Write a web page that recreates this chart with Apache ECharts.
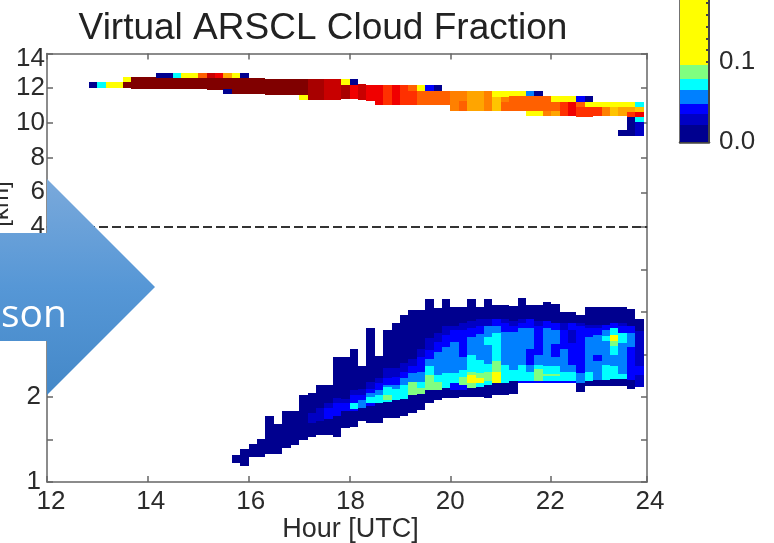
<!DOCTYPE html>
<html>
<head>
<meta charset="utf-8">
<style>html,body{margin:0;padding:0;background:#fff}#c{width:774px;height:543px}#c canvas{filter:blur(0.4px)}</style>
<script src="https://cdn.jsdelivr.net/npm/echarts@6/dist/echarts.min.js"></script>
</head>
<body>
<div id="c"></div>
<script>
// Column layout: [base km, fraction %, top km, fraction %, top km, ...], 10-minute columns.
const stepHours = 1 / 6;
const highStartHour = 12.8333;
const lowStartHour = 15.6667;
const highColumns = [
[12.00,1,12.34],[12.00,7,12.34],[12.00,12,12.34],[12.00,12,12.34],[12.00,80,12.34,12,12.62],
[11.93,80,12.62],[11.93,80,12.62],[11.93,80,12.62],[11.93,80,12.57,1,12.85],[11.93,80,12.57,1,12.85],
[11.93,80,12.57,7,12.85],[11.93,80,12.57,12,12.85],[11.93,80,12.57,12,12.85],[11.93,80,12.57,40,12.85],[11.89,80,12.57,70,12.85],
[11.89,80,12.57,60,12.85],[11.64,1,11.93,80,12.57,30,12.85],[11.64,80,12.57,12,12.85],[11.64,80,12.57,1,12.85],[11.64,80,12.57],
[11.64,80,12.57],[11.61,80,12.51],[11.61,80,12.51],[11.61,80,12.51],[11.61,80,12.51],
[11.32,12,11.61,80,12.51],[11.32,75,12.51],[11.32,75,12.51],[11.32,70,12.51],[11.32,70,12.51],
[11.36,75,12.18,12,12.51],[11.36,60,12.18,1,12.51],[11.32,70,12.24],[11.28,60,12.18],[11.03,60,12.18],
[11.03,50,12.18],[11.03,60,12.18],[11.03,50,12.18],[11.03,50,11.86,40,12.18],[11.03,40,11.86,12,12.18],
[11.03,40,11.86,4,12.18],[11.03,40,11.86,1,12.18],[11.03,40,11.86],[10.70,35,11.86],[10.70,40,11.28,35,11.86],
[10.70,30,11.86],[10.70,30,11.86],[10.70,35,11.86],[10.70,20,11.51,12,11.86],[10.70,40,11.22,35,11.51,12,11.86],
[10.70,40,11.55,12,11.86],[10.70,40,11.55,12,11.86],[10.40,12,10.70,40,11.55,6,11.86],[10.40,12,10.70,40,11.55,1,11.86],[10.40,35,10.70,40,11.55],
[10.40,30,10.70,40,11.22,12,11.55],[10.40,50,11.22,12,11.55],[10.40,60,11.22,12,11.55],[10.36,50,10.93,40,11.22,4,11.55],[10.36,50,10.93,12,11.22,1,11.55],
[10.40,50,10.93,12,11.22],[10.40,35,10.93,12,11.22],[10.40,20,10.93,12,11.22],[9.26,1,9.59,0,10.40,30,10.93,12,11.22],[9.26,1,10.36,50,10.65,30,10.93,12,11.22],
[9.26,3,10.03,7,10.36,60,10.65,20,10.93,7,11.22]
];
const lowColumns = [
[1.22,1,1.32],[1.19,1,1.39],[1.29,1,1.45],[1.30,1,1.51],[1.33,1,1.78],
[1.33,1,1.68],[1.40,1,1.84],[1.43,1,1.84],[1.50,1,2.02],[1.53,1,1.69,3,1.81,1,2.05],
[1.55,1,1.72,3,1.87,1,2.14],[1.55,1,1.74,4,1.87,3,1.93,1,2.14],[1.53,1,1.78,4,1.93,3,1.99,1,2.47],
[1.63,1,1.83,4,1.93,3,1.98,1,2.47],[1.65,1,1.83,4,1.855,7,1.93,4,2.02,3,2.08,1,2.56],
[1.72,1,1.87,6,1.96,4,2.02,3,2.09,1,2.36],[1.69,1,1.89,4,1.93,7,2.0,6,2.05,4,2.10,3,2.18,1,2.81],
[1.69,1,1.93,7,2.02,6,2.08,4,2.16,3,2.22,1,2.48],[1.75,1,1.94,7,1.96,9,2.02,7,2.12,6,2.14,4,2.22,3,2.34,1,2.79],
[1.75,1,1.96,7,2.10,6,2.14,4,2.24,3,2.34,1,2.87],[1.78,1,1.98,7,2.14,6,2.22,4,2.30,3,2.40,1,2.96],
[1.81,1,2.02,9,2.18,6,2.28,4,2.36,3,2.45,1,3.02],[1.85,1,2.04,9,2.11,7,2.18,6,2.30,4,2.47,3,2.57,1,3.02],
[1.93,1,2.08,9,2.26,7,2.36,6,2.45,4,2.55,3,2.69,1,3.15],[1.96,1,2.08,9,2.18,7,2.26,6,2.53,4,2.65,3,2.75,1,3.05],
[1.99,1,2.11,7,2.28,6,2.59,4,2.73,3,2.83,1,3.15],[1.99,1,2.08,4,2.16,7,2.28,6,2.65,4,2.79,3,2.84,1,3.06],
[2.0,1,2.08,4,2.14,9,2.24,7,2.32,6,2.47,4,2.79,3,2.87,1,3.06],[2.0,1,2.11,9,2.17,12,2.26,9,2.29,7,2.5,6,2.71,4,2.81,3,2.89,1,3.15],
[2.0,1,2.12,7,2.17,12,2.22,9,2.28,7,2.44,6,2.74,4,2.83,3,2.92,1,3.06],[1.99,1,2.14,7,2.19,9,2.29,7,2.39,6,2.61,7,2.71,6,2.84,3,2.92,1,3.15],
[2.02,1,2.17,12,2.29,9,2.42,7,2.75,6,2.84,4,2.92,1,3.08],[2.02,1,2.17,7,2.38,6,2.77,4,2.87,3,2.92,1,3.08],
[2.03,1,2.19,7,2.32,6,2.77,4,2.83,3,2.89,1,3.07],[2.16,4,2.19,7,2.38,6,2.81,4,2.87,3,2.92,1,3.17],
[2.16,4,2.19,7,2.29,6,2.38,4,2.57,6,2.81,4,2.92,1,3.08],[2.16,4,2.19,9,2.33,7,2.38,6,2.5,4,2.83,3,2.89,1,3.08],
[2.16,4,2.19,7,2.25,9,2.27,7,2.37,6,2.81,4,2.89,1,3.12],[2.16,4,2.19,7,2.25,9,2.27,7,2.37,6,2.47,4,2.62,6,2.79,4,2.87,1,3.09],
[2.16,4,2.19,7,2.29,6,2.57,4,2.79,3,2.87,1,3.0],[2.16,4,2.19,7,2.29,6,2.38,4,2.63,3,2.79,4,2.87,1,3.0],
[2.06,1,2.17,6,2.28,4,2.83,3,2.87,1,2.97],[2.13,1,2.19,7,2.29,6,2.71,4,2.81,3,2.85,1,3.06],
[2.13,1,2.2,6,2.42,4,2.5,6,2.73,4,2.81,3,2.85,1,3.06],[2.13,1,2.2,7,2.38,6,2.66,7,2.72,6,2.79,4,2.85,1,3.06],
[2.13,1,2.21,7,2.37,6,2.5,7,2.6,9,2.66,12,2.73,7,2.81,4,2.87,1,3.06],[2.13,1,2.21,7,2.27,6,2.63,7,2.75,4,2.83,3,2.87,1,3.06],
[2.09,1,2.2,4,2.59,6,2.75,4,2.83,1,3.04],[2.12,3,2.26,4,2.36,3,2.78,1,2.92]
];
const fractionClasses = [1,3,4,6,7,9,12,20,30,35,40,50,60,70,75,80];
const classColors = ['#00008f','#0000c4','#0000ff','#0080ff','#00ffff','#80ff80','#ffff00','#ffc400','#ffa500','#ff8000','#ff6000','#ff3000','#f00000','#c80000','#a80000','#800000'];
const colorbarEdges = [0,0.021,0.035,0.0475,0.065,0.079,0.096,0.1775];
const colorbarClasses = [1,3,4,6,7,9,12];
const colorbarTicks = [0.1,0.1147,0.1294,0.1441,0.1588,0.1735];
const yTicksUpper = [4,6,8,10,12,14];
const yLabelsLower = [1,2];
const xLabelHours = [12,14,16,18,20,22,24];

function toCells(columns, start) {
  const out = [];
  columns.forEach(function (c, i) {
    const t0 = start + i * stepHours, t1 = t0 + stepHours;
    for (let j = 1; j < c.length; j += 2) {
      if (c[j] > 0) out.push([t0, c[j - 1], t1, c[j + 1], c[j]]);
    }
  });
  return out;
}
function drawCell(params, api) {
  const a = api.coord([api.value(0), api.value(1)]);
  const b = api.coord([api.value(2), api.value(3)]);
  const x0 = Math.round(a[0]), x1 = Math.round(b[0]), y0 = Math.round(b[1]), y1 = Math.round(a[1]);
  return {type:'rect', shape:{x:x0, y:y0, width:x1-x0, height:y1-y0}, style:{fill:api.visual('color')}};
}
const FONT = '"Liberation Sans", Arial, sans-serif';
const TXT = '#2b2b2b', LINE = '#666666';
const edge = {show:true, onZero:false, lineStyle:{color:LINE, width:1.5}};
const tick = {show:true, inside:true, length:6, lineStyle:{color:LINE, width:1.5}};
const noLabel = {show:false};
const pieces = fractionClasses.map(function (v, i) {
  return {gte: v, lt: i + 1 < fractionClasses.length ? fractionClasses[i + 1] : 1000, color: classColors[i]};
});
const custom = function (data, xi, yi, extra) {
  return Object.assign({type:'custom', renderItem:drawCell, data:data, xAxisIndex:xi, yAxisIndex:yi,
    encode:{x:[0,2], y:[1,3]}, silent:true, clip:true, animation:false}, extra || {});
};
const cbData = colorbarClasses.map(function (v, i) { return [0, colorbarEdges[i], 1, colorbarEdges[i + 1], v]; });

const chart = echarts.init(document.getElementById('c'), null, {renderer:'canvas'});
chart.setOption({
  animation:false,
  backgroundColor:'#fff',
  textStyle:{fontFamily:FONT},
  title:{text:'Virtual ARSCL Cloud Fraction', left:318, top:5, textAlign:'center',
    textStyle:{fontFamily:FONT, fontSize:37, fontWeight:'normal', color:'#222'}},
  grid:[
    {left:47, top:53.5, width:600, height:173.5, outerBoundsMode:'none'},
    {left:47, top:227, width:600, height:255, outerBoundsMode:'none'},
    {left:51, top:482, width:599, height:1, outerBoundsMode:'none'},
    {left:680, top:0, width:29, height:142, outerBoundsMode:'none'}
  ],
  xAxis:[
    {type:'value', gridIndex:0, position:'top', min:12, max:23.9, interval:2, axisLine:edge, axisTick:tick, axisLabel:noLabel, splitLine:{show:false}},
    {type:'value', gridIndex:1, position:'bottom', min:12, max:23.9, interval:2, axisLine:edge, axisTick:tick, axisLabel:noLabel, splitLine:{show:false}},
    {type:'value', gridIndex:2, position:'bottom', min:12, max:24, interval:2, axisLine:{show:false}, axisTick:{show:false}, splitLine:{show:false},
      axisLabel:{show:true, margin:6, fontSize:26, color:TXT, fontFamily:FONT, customValues:xLabelHours, hideOverlap:false},
      name:'Hour [UTC]', nameLocation:'middle', nameGap:31, nameTextStyle:{fontSize:27, color:TXT, fontFamily:FONT}},
    {type:'value', gridIndex:3, position:'bottom', min:0, max:1, axisLine:{show:true, onZero:false, lineStyle:{color:'#444', width:2.5}}, axisTick:{show:false}, axisLabel:noLabel, splitLine:{show:false}}
  ],
  yAxis:[
    {type:'value', gridIndex:0, position:'left', min:4, max:14, interval:2, axisLine:edge, axisTick:tick, splitLine:{show:false},
      axisLabel:{margin:2, fontSize:26, color:TXT, fontFamily:FONT, customValues:yTicksUpper,
        formatter:function (v) { return v === 14 ? '{shift|14}' : String(v); },
        rich:{shift:{padding:[11,0,0,0], fontSize:26, color:TXT, fontFamily:FONT}}}},
    {type:'value', gridIndex:0, position:'right', min:4, max:14, interval:2, axisLine:edge, axisTick:tick, axisLabel:noLabel, splitLine:{show:false}},
    {type:'value', gridIndex:1, position:'left', min:1, max:4, interval:0.5, axisLine:edge, axisTick:tick, splitLine:{show:false},
      axisLabel:{margin:6, fontSize:26, color:TXT, fontFamily:FONT, customValues:yLabelsLower}},
    {type:'value', gridIndex:1, position:'right', min:1, max:4, interval:0.5, axisLine:edge, axisTick:tick, axisLabel:noLabel, splitLine:{show:false}},
    {type:'value', gridIndex:2, show:false, min:0, max:1},
    {type:'value', gridIndex:3, position:'left', min:0, max:0.1775, axisLine:{show:true, onZero:false, lineStyle:{color:'#444', width:2.5}}, axisTick:{show:false}, axisLabel:noLabel, splitLine:{show:false}},
    {type:'value', gridIndex:3, position:'right', z:5, min:0, max:0.1775, axisLine:{show:true, onZero:false, lineStyle:{color:'#444', width:2}}, splitLine:{show:false},
      axisTick:{show:true, inside:true, length:3, customValues:colorbarTicks, lineStyle:{color:'#444', width:2}},
      axisLabel:{show:true, margin:10, fontSize:26, padding:[4,0,0,0], color:TXT, fontFamily:FONT, customValues:[0,0.1], formatter:function (v) { return v.toFixed(1); }}}
  ],
  visualMap:{type:'piecewise', show:false, dimension:4, seriesIndex:[0,1,2], pieces:pieces},
  series:[
    custom(toCells(highColumns, highStartHour), 0, 0),
    custom(toCells(lowColumns, lowStartHour), 1, 2, {
      markLine:{silent:true, symbol:'none', animation:false, label:{show:false},
        lineStyle:{color:'#333', type:[9,4], width:2}, data:[{yAxis:4}]}
    }),
    custom(cbData, 3, 5)
  ],
  graphic:[
    {type:'text', z:50, x:1, y:204, rotation:Math.PI/2,
      style:{text:'[km]', font:'24px "Liberation Sans"', fill:TXT, align:'center', verticalAlign:'middle'}},
    {type:'polygon', z:100,
      shape:{points:[[0,233],[47,233],[47,179],[155,287],[47,395],[47,341],[0,341]]},
      style:{fill:new echarts.graphic.LinearGradient(0,0,0,1,[{offset:0,color:'#7aa9db'},{offset:0.5,color:'#5697d6'},{offset:1,color:'#4488c8'}])}},
    {type:'text', z:101, x:1, y:316,
      style:{text:'son', font:'39px "Open Sans"', fill:'#fff', align:'left', verticalAlign:'middle'}}
  ]
});
</script>
</body>
</html>
